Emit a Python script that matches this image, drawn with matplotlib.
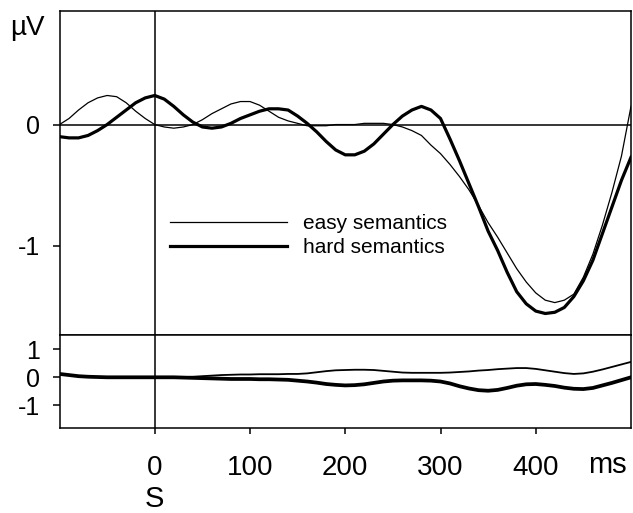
import matplotlib
matplotlib.use("Agg")
import matplotlib.pyplot as plt
import numpy as np

plt.rcParams['font.family'] = ['Liberation Sans', 'DejaVu Sans']

# time axis (ms)
time_ms = list(range(-100, 501, 10))

easy_upper = [0.00, 0.05, 0.12, 0.18, 0.22, 0.24, 0.23, 0.18, 0.11, 0.05,
              0.00, -0.02, -0.03, -0.02, 0.00, 0.04, 0.09, 0.13, 0.17, 0.19,
              0.19, 0.16, 0.11, 0.06, 0.03, 0.01, -0.01, -0.01, -0.01, 0.00,
              0.00, 0.00, 0.01, 0.01, 0.01, 0.00, -0.02, -0.05, -0.09, -0.17,
              -0.24, -0.33, -0.43, -0.54, -0.67, -0.81, -0.93, -1.06, -1.19, -1.30,
              -1.39, -1.45, -1.47, -1.45, -1.40, -1.26, -1.07, -0.83, -0.56, -0.26,
              0.15]
hard_upper = [-0.10, -0.11, -0.11, -0.09, -0.05, 0.00, 0.06, 0.12, 0.18, 0.22,
              0.24, 0.21, 0.15, 0.08, 0.02, -0.02, -0.03, -0.02, 0.01, 0.05,
              0.08, 0.11, 0.13, 0.13, 0.12, 0.07, 0.01, -0.06, -0.14, -0.21,
              -0.25, -0.25, -0.22, -0.16, -0.08, 0.00, 0.07, 0.12, 0.15, 0.12,
              0.05, -0.12, -0.30, -0.49, -0.68, -0.88, -1.04, -1.22, -1.38, -1.48,
              -1.54, -1.56, -1.55, -1.51, -1.42, -1.29, -1.12, -0.90, -0.68, -0.46,
              -0.27]
easy_lower = [0.12, 0.08, 0.04, 0.02, 0.01, 0.00, 0.00, 0.00, 0.00, 0.00,
              0.00, 0.00, 0.00, 0.01, 0.02, 0.04, 0.06, 0.08, 0.09, 0.10,
              0.10, 0.11, 0.11, 0.11, 0.12, 0.12, 0.14, 0.18, 0.22, 0.25,
              0.26, 0.27, 0.27, 0.26, 0.23, 0.20, 0.17, 0.16, 0.16, 0.16,
              0.16, 0.17, 0.19, 0.21, 0.24, 0.26, 0.29, 0.31, 0.33, 0.33,
              0.30, 0.25, 0.20, 0.15, 0.12, 0.14, 0.20, 0.28, 0.37, 0.46,
              0.55]
hard_lower = [0.12, 0.08, 0.04, 0.02, 0.01, 0.00, 0.00, 0.00, 0.00, 0.00,
              0.00, 0.00, 0.00, -0.01, -0.02, -0.03, -0.04, -0.05, -0.06, -0.06,
              -0.06, -0.07, -0.07, -0.08, -0.09, -0.12, -0.15, -0.19, -0.24, -0.27,
              -0.29, -0.28, -0.25, -0.20, -0.15, -0.12, -0.11, -0.11, -0.11, -0.12,
              -0.15, -0.22, -0.32, -0.40, -0.46, -0.48, -0.45, -0.38, -0.30, -0.25,
              -0.24, -0.27, -0.31, -0.37, -0.41, -0.42, -0.38, -0.29, -0.20, -0.10,
              0.00]

series_labels = ["easy semantics", "hard semantics"]
xtick_vals = [0, 100, 200, 300, 400]
xtick_labels = ["0", "100", "200", "300", "400"]
upper_yticks = [0, -1]
lower_yticks = [1, 0, -1]

W, H = 633, 513
fig = plt.figure(figsize=(W / 100, H / 100), dpi=100)

left = 59.5 / W
right = 631 / W
top_u = 1 - 10.7 / H
mid = 1 - 335.3 / H
bot_l = 1 - 427.7 / H

ax1 = fig.add_axes([left, mid, right - left, top_u - mid])
ax2 = fig.add_axes([left, bot_l, right - left, mid - bot_l], sharex=ax1)

thin_lw = 0.9
thick_lw = 2.3

for ax in (ax1, ax2):
    for s in ax.spines.values():
        s.set_linewidth(1.1)
        s.set_color('black')
    ax.axvline(0, color='black', lw=1.1, zorder=1)

ax1.axhline(0, color='black', lw=1.1, zorder=1)
l1, = ax1.plot(time_ms, easy_upper, color='black', lw=thin_lw, label=series_labels[0])
l2, = ax1.plot(time_ms, hard_upper, color='black', lw=thick_lw, label=series_labels[1])
ax2.plot(time_ms, easy_lower, color='black', lw=thin_lw + 0.4)
ax2.plot(time_ms, hard_lower, color='black', lw=thick_lw + 0.4)

ax1.set_xlim(-100, 500)
ax1.set_ylim(-1.74, 0.94)
ax2.set_ylim(-1.8, 1.5)

ax1.set_yticks(upper_yticks)
ax1.set_yticklabels(["0", "-1"])
ax2.set_yticks(lower_yticks)
ax2.set_yticklabels(["1", "0", "-1"])

ax1.tick_params(axis='x', which='both', bottom=False, labelbottom=False)
ax1.tick_params(axis='y', direction='out', length=5, width=1.1, pad=9, labelsize=18)
ax2.tick_params(axis='y', direction='out', length=5, width=1.1, pad=9, labelsize=18)
ax2.set_xticks(xtick_vals)
ax2.set_xticklabels(xtick_labels)
ax2.tick_params(axis='x', direction='out', length=4, width=1.1, pad=16, labelsize=20)

leg = ax1.legend(handles=[l1, l2], loc='upper left', bbox_to_anchor=(0.194, 0.374),
                 frameon=False, fontsize=15, handlelength=5.6, handletextpad=0.75,
                 borderpad=0, borderaxespad=0, labelspacing=0.26)

fig.text(10 / W, 1 - 28 / H, "µV", fontsize=20, ha='left', va='center')
fig.text(607 / W, 1 - 465 / H, "ms", fontsize=21, ha='center', va='center')
fig.text(154 / W, 1 - 499 / H, "S", fontsize=21, ha='center', va='center')

fig.savefig("out.png", dpi=100)
